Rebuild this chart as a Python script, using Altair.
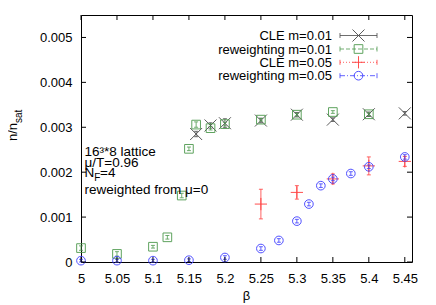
import altair as alt
import pandas as pd

# ---------------- data ----------------
series_names = ["CLE m=0.01", "reweighting m=0.01", "CLE m=0.05", "reweighting m=0.05"]

cle01_beta = [5.16, 5.18, 5.20, 5.25, 5.30, 5.35, 5.40, 5.45]
cle01_n = [2.85e-3, 3.04e-3, 3.09e-3, 3.15e-3, 3.28e-3, 3.17e-3, 3.29e-3, 3.31e-3]
cle01_err = [0.06e-3, 0.06e-3, 0.10e-3, 0.05e-3, 0.05e-3, 0.04e-3, 0.05e-3, 0.04e-3]

rw01_beta = [5.00, 5.05, 5.10, 5.12, 5.14, 5.15, 5.16, 5.18, 5.20, 5.25, 5.30, 5.35, 5.40]
rw01_n = [0.31e-3, 0.18e-3, 0.34e-3, 0.55e-3, 1.48e-3, 2.52e-3, 3.06e-3, 2.98e-3, 3.07e-3,
          3.17e-3, 3.28e-3, 3.34e-3, 3.29e-3]
rw01_err = [0.05e-3, 0.05e-3, 0.03e-3, 0.04e-3, 0.05e-3, 0.04e-3, 0.06e-3, 0.04e-3, 0.04e-3,
            0.03e-3, 0.03e-3, 0.03e-3, 0.03e-3]

cle05_beta = [5.25, 5.30, 5.35, 5.40, 5.45]
cle05_n = [1.29e-3, 1.55e-3, 1.85e-3, 2.14e-3, 2.24e-3]
cle05_err = [0.33e-3, 0.15e-3, 0.11e-3, 0.20e-3, 0.11e-3]

rw05_beta = [5.00, 5.05, 5.10, 5.15, 5.20, 5.25, 5.275, 5.30, 5.3167, 5.3333, 5.35, 5.375, 5.40, 5.45]
rw05_n = [0.03e-3, 0.03e-3, 0.03e-3, 0.04e-3, 0.10e-3, 0.30e-3, 0.48e-3, 0.91e-3, 1.29e-3,
          1.70e-3, 1.85e-3, 1.97e-3, 2.12e-3, 2.34e-3]
rw05_err = [0.03e-3, 0.03e-3, 0.03e-3, 0.03e-3, 0.04e-3, 0.04e-3, 0.04e-3, 0.04e-3, 0.04e-3,
            0.04e-3, 0.04e-3, 0.04e-3, 0.04e-3, 0.05e-3]

beta_ticks = [5.0, 5.05, 5.1, 5.15, 5.2, 5.25, 5.3, 5.35, 5.4, 5.45]
n_ticks = [0.0, 0.001, 0.002, 0.003, 0.004, 0.005]

annotation_lines = ["16\u00b3*8 lattice", "\u03bc/T=0.96", "N", "reweighted from \u03bc=0"]

# ---------------- styling ----------------
W, H = 331, 247
FONT = "Liberation Sans"
colors = ["#4a4a4a", "#4e9a4e", "#ff3c3c", "#3c3cff"]
shapes = ["M-1,-1L1,1M-1,1L1,-1", "square", "M-1,0L1,0M0,-1L0,1", "circle"]
sizes = [144, 75, 150, 75]
dashes = [[1, 0], [4, 2], [1, 2], [5, 2, 1, 2]]

xscale = alt.Scale(domain=[5.0, 5.46], nice=False, zero=False)
yscale = alt.Scale(domain=[0, 0.0055], nice=False, zero=False)

x_axis = alt.Axis(values=beta_ticks, format="~g", title=None, ticks=False, domain=False,
                  grid=False, labelPadding=10, labelFontSize=13, labelFont=FONT,
                  labelColor="black", labelFlush=False, labelOverlap=False)
y_axis = alt.Axis(values=n_ticks, format="~g", title=None, ticks=False, domain=False,
                  grid=False, labelPadding=9, labelFontSize=13, labelFont=FONT,
                  labelColor="black", labelOverlap=False)


def X(field):
    return alt.X(field, scale=xscale, axis=x_axis)


def Y(field):
    return alt.Y(field, scale=yscale, axis=y_axis)


datasets = [
    (cle01_beta, cle01_n, cle01_err),
    (rw01_beta, rw01_n, rw01_err),
    (cle05_beta, cle05_n, cle05_err),
    (rw05_beta, rw05_n, rw05_err),
]

layers = []
for i, (b, n, e) in enumerate(datasets):
    df = pd.DataFrame({"beta": b, "n": n, "err": e})
    base = alt.Chart(df).transform_calculate(
        lo="datum.n - datum.err", hi="datum.n + datum.err")
    bar = base.mark_rule(color=colors[i], strokeWidth=1, opacity=0.8).encode(
        x=X("beta:Q"), y=Y("lo:Q"), y2="hi:Q")
    cap_lo = base.mark_tick(color=colors[i], orient="horizontal", size=4, thickness=1,
                            opacity=0.8).encode(x=X("beta:Q"), y=Y("lo:Q"))
    cap_hi = base.mark_tick(color=colors[i], orient="horizontal", size=4, thickness=1,
                            opacity=0.8).encode(x=X("beta:Q"), y=Y("hi:Q"))
    pts = base.mark_point(shape=shapes[i], size=sizes[i], filled=False, color=colors[i],
                          strokeWidth=1, opacity=0.9).encode(x=X("beta:Q"), y=Y("n:Q"))
    layers += [bar, cap_lo, cap_hi, pts]

# inward ticks on all four sides
xt = pd.DataFrame({"beta": beta_ticks})
yt = pd.DataFrame({"n": n_ticks})
tick_layers = [
    alt.Chart(xt).mark_rule(color="black").encode(
        x=X("beta:Q"), y=alt.value(H), y2=alt.value(H - 5)),
    alt.Chart(xt).mark_rule(color="black").encode(
        x=X("beta:Q"), y=alt.value(0), y2=alt.value(5)),
    alt.Chart(yt).mark_rule(color="black").encode(
        y=Y("n:Q"), x=alt.value(0), x2=alt.value(5)),
    alt.Chart(yt).mark_rule(color="black").encode(
        y=Y("n:Q"), x=alt.value(W), x2=alt.value(W - 5)),
]

# legend (gnuplot style: text right-aligned, sample at right)
leg_layers = []
leg_y = [20.5, 34.0, 47.3, 60.7]
one = pd.DataFrame({"k": [0]})
for i, name in enumerate(series_names):
    yy = leg_y[i]
    leg_layers.append(alt.Chart(one).mark_text(
        text=name, align="right", baseline="middle", font=FONT, fontSize=13, color="black"
    ).encode(x=alt.value(251), y=alt.value(yy + 0.5)))
    leg_layers.append(alt.Chart(one).mark_rule(
        color=colors[i], strokeDash=dashes[i], strokeWidth=1, opacity=0.8
    ).encode(x=alt.value(259), x2=alt.value(296), y=alt.value(yy)))
    for cx in (259, 296):
        leg_layers.append(alt.Chart(one).mark_rule(color=colors[i], opacity=0.8).encode(
            x=alt.value(cx), y=alt.value(yy - 2.5), y2=alt.value(yy + 2.5)))
    leg_layers.append(alt.Chart(one).mark_point(
        shape=shapes[i], size=sizes[i], filled=False, color=colors[i], strokeWidth=1, opacity=0.9
    ).encode(x=alt.value(277.5), y=alt.value(yy)))


# annotation text
def txt(t, x, y, size=13.5, angle=0):
    kw = dict(text=t, align="left", baseline="alphabetic", font=FONT, fontSize=size,
              color="black")
    if angle:
        kw["angle"] = angle
    return alt.Chart(one).mark_text(**kw).encode(x=alt.value(x), y=alt.value(y))


ann_layers = [
    txt(annotation_lines[0], 3.5, 141.0),
    txt(annotation_lines[1], 3.5, 152.0),
    txt(annotation_lines[2], 3.5, 162.0),
    txt("F", 13.2, 165.5, size=10),
    txt("=4", 19.0, 162.0),
    txt(annotation_lines[3], 3.5, 179.0),
    # axis titles
    txt("n/n", -64.5, 126, size=13, angle=270),
    txt("sat", -59.0, 108, size=10, angle=270),
    alt.Chart(one).mark_text(text="\u03b2", align="center", baseline="alphabetic",
                             font=FONT, fontSize=13, color="black").encode(
        x=alt.value(165.5), y=alt.value(285)),
]

chart = alt.layer(*layers, *tick_layers, *leg_layers, *ann_layers).properties(
    width=W, height=H,
    autosize=alt.AutoSizeParams(type="none"),
    padding={"left": 73, "top": 7, "right": 16, "bottom": 44},
    background="white",
).configure_view(stroke="black", strokeWidth=1)

chart.save("out.html", embed_options={"renderer": "svg", "actions": False})
